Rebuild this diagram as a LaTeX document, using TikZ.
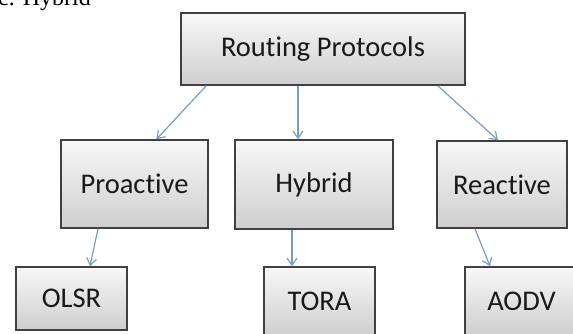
\documentclass[tikz,border=0pt]{standalone}
\usepackage{fontspec}
\setmainfont{Carlito}[Ligatures=NoCommon]
\newfontfamily\captionserif{Liberation Serif}
\usetikzlibrary{arrows.meta}

\tikzset{
  protobox/.style={draw=black!75, line width=1.6pt, top color=gray!6, bottom color=gray!38,
    inner sep=0pt, text=black!90, font=\fontsize{28.5}{32}\selectfont},
  link/.style={draw={rgb,255:red,125;green,155;blue,195}, line width=1.2pt,
    -{Straight Barb[length=7pt,width=10pt,line width=1.2pt]}}
}

\begin{document}
\begin{tikzpicture}[x=1pt,y=-1pt]
\useasboundingbox (0,0) rectangle (573,334);

  % caption cut off at the top
  \node[anchor=base west, inner sep=0pt, font=\captionserif\fontsize{24}{28}\selectfont] (cap) at (-2,6) {c. Hybrid};

  \node[protobox, minimum width=284, minimum height=72] (rp) at (323,49) {Routing Protocols};

  \node[protobox, minimum width=147, minimum height=88] (pro) at (134.5,184) {Proactive};
  \node[protobox, minimum width=158, minimum height=89] (hyb) at (314,184.5) {Hybrid};
  \node[protobox, minimum width=130, minimum height=87] (rea) at (502,184.5) {Reactive};

  \node[protobox, minimum width=111, minimum height=63] (olsr) at (71.5,298.5) {OLSR};
  \node[protobox, minimum width=111, minimum height=68] (tora) at (319.5,301) {TORA};
  \node[protobox, minimum width=113, minimum height=68] (aodv) at (521.5,301) {AODV};

  \draw[link] ([xshift=26pt]rp.south west) -- ([xshift=22pt]pro.north);
  \draw[link] ([xshift=-25pt]rp.south) -- ([xshift=-16pt]hyb.north);
  \draw[link] ([xshift=-28pt]rp.south east) -- ([xshift=-4pt]rea.north);

  \draw[link] ([xshift=-36.5pt]pro.south) -- ([xshift=18.5pt]olsr.north);
  \draw[link] ([xshift=-22pt]hyb.south) -- ([xshift=-27.5pt]tora.north);
  \draw[link] ([xshift=-27pt]rea.south) -- ([xshift=-31.5pt]aodv.north);
\end{tikzpicture}
\end{document}
